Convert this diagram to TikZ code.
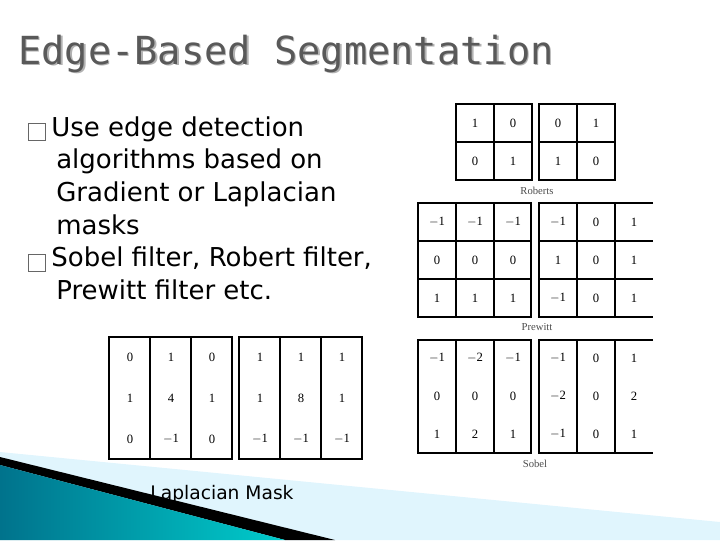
\documentclass[tikz,border=0pt]{standalone}
\usepackage{fontspec}
\setmainfont{DejaVu Sans}
\newfontfamily\titlefont{DejaVu Sans Mono}
\newfontfamily\numfont{Liberation Serif}
\usetikzlibrary{positioning,calc}

\begin{document}
\begin{tikzpicture}[
    x=0.75pt,y=-0.75pt,
    gridline/.style={draw=black,line width=0.9pt},
    num/.style={font=\numfont\fontsize{9.5}{10}\selectfont,inner sep=0pt},
    caption/.style={font=\numfont\fontsize{8}{10}\selectfont,text=black!70},
    bullet/.style={font=\fontsize{19.5}{24.5}\selectfont,align=left,anchor=north west,inner sep=0pt}
  ]
    \useasboundingbox (0,0) rectangle (720,540);
    % corner swoosh
    \fill[cyan!12] (0,452) -- (720,522) -- (720,540) -- (0,540) -- cycle;
    \fill[black] (0,457) -- (335,540) -- (285,540) -- (0,465) -- cycle;
    \shade[left color=teal!90!blue,right color=cyan!60!teal] (0,465) -- (285,540) -- (0,540) -- cycle;
    % title
    \node[anchor=base west,inner sep=0pt,text=black!30,font=\titlefont\fontsize{29}{30}\selectfont] at (19.5,65.5) {Edge-Based Segmentation};
    \node[anchor=base west,inner sep=0pt,text=black!65,font=\titlefont\fontsize{29}{30}\selectfont] (title) at (18,64) {Edge-Based Segmentation};
    % bullets
    \node[bullet] (text) at (28,116) {%
      {\fontsize{11}{11}\selectfont\textcolor{black!60}{\fbox{\phantom{x}}}}\hspace{4pt}Use edge detection\\
      \hspace{21pt}algorithms based on\\
      \hspace{21pt}Gradient or Laplacian\\
      \hspace{21pt}masks\\
      {\fontsize{11}{11}\selectfont\textcolor{black!60}{\fbox{\phantom{x}}}}\hspace{4pt}Sobel filter, Robert filter,\\
      \hspace{21pt}Prewitt filter etc.};
    % Roberts
    \draw[gridline] (456,104) rectangle (532,180) (494,104) -- (494,180) (456,142) -- (532,142);
    \draw[gridline] (539,104) rectangle (615,180) (577,104) -- (577,180) (539,142) -- (615,142);
    \foreach \c/\r/\v in {0/0/1,1/0/0,0/1/0,1/1/1,2/0/0,3/0/1,2/1/1,3/1/0}{
      \pgfmathsetmacro{\px}{\c<2 ? 475+38*\c : 558+38*(\c-2)}
      \node[num] (rob\c\r) at (\px,{123+38*\r}) {\v};
    }
    \node[caption] (roberts) at (537,191) {Roberts};
    % Prewitt
    \draw[gridline] (418,203) rectangle (531,317);
    \foreach \k in {456,494} \draw[gridline] (\k,203) -- (\k,317);
    \foreach \k in {241,279} \draw[gridline] (418,\k) -- (531,\k) (539,\k) -- (653,\k);
    \draw[gridline] (653,203) -- (539,203) -- (539,317) -- (653,317);
    \foreach \k in {577,615} \draw[gridline] (\k,203) -- (\k,317);
    \foreach \r/\vals in {0/{$-$1,$-$1,$-$1,$-$1,0,1},1/{0,0,0,1,0,1},2/{1,1,1,$-$1,0,1}}{
      \foreach \v [count=\c from 0] in \vals {
        \pgfmathsetmacro{\px}{\c<3 ? 437+38*\c : 558+38*(\c-3)}
        \node[num] (pre\c\r) at (\px,{222+38*\r}) {\v};
      }
    }
    \node[caption] (prewitt) at (537,327) {Prewitt};
    % Sobel
    \draw[gridline] (418,340) rectangle (531,453);
    \draw[gridline] (653,340) -- (539,340) -- (539,453) -- (653,453);
    \foreach \k in {456,494,577,615} \draw[gridline] (\k,340) -- (\k,453);
    \foreach \r/\vals in {0/{$-$1,$-$2,$-$1,$-$1,0,1},1/{0,0,0,$-$2,0,2},2/{1,2,1,$-$1,0,1}}{
      \foreach \v [count=\c from 0] in \vals {
        \pgfmathsetmacro{\px}{\c<3 ? 437+38*\c : 558+38*(\c-3)}
        \node[num] (sob\c\r) at (\px,{358+38*\r}) {\v};
      }
    }
    \node[caption] (sobel) at (535,464) {Sobel};
    % Laplacian
    \draw[gridline] (109,337) rectangle (232,459) (239,337) rectangle (362,459);
    \foreach \k in {150,191,280,321} \draw[gridline] (\k,337) -- (\k,459);
    \foreach \r/\vals in {0/{0,1,0,1,1,1},1/{1,4,1,1,8,1},2/{0,$-$1,0,$-$1,$-$1,$-$1}}{
      \foreach \v [count=\c from 0] in \vals {
        \pgfmathsetmacro{\px}{\c<3 ? 130+41*\c : 260+41*(\c-3)}
        \node[num] (lap\c\r) at (\px,{357+41*\r}) {\v};
      }
    }
    \node[font=\fontsize{14}{16}\selectfont,inner sep=0pt] (laplacian) at (222,494) {Laplacian Mask};
  \end{tikzpicture}
\end{document}
